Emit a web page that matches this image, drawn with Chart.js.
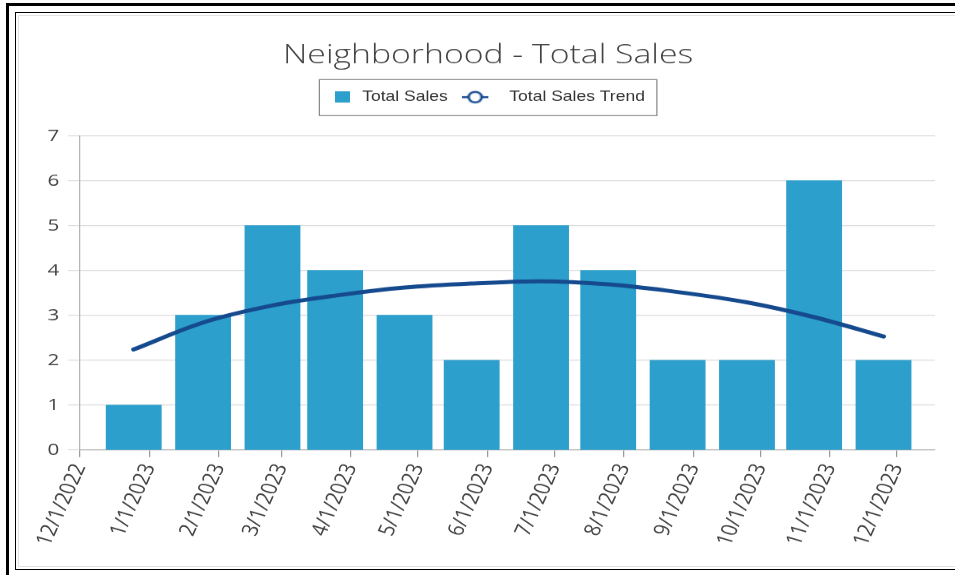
<!DOCTYPE html>
<html>
<head>
<meta charset="utf-8">
<script src="https://cdn.jsdelivr.net/npm/chart.js@4.4.1/dist/chart.umd.min.js"></script>
<style>
  html, body { margin: 0; padding: 0; background: #fff; width: 955px; height: 575px; overflow: hidden; }
  .frame1 { position: absolute; left: 6px; top: 3px; width: 1000px; height: 1000px; border: 3px solid #000; box-sizing: border-box; }
  .frame2 { position: absolute; left: 15px; top: 12px; width: 1000px; height: 558px; border: 1px solid #000; box-sizing: border-box; }
  .frame3 { position: absolute; left: 18px; top: 15px; width: 1000px; height: 552px; border: 1px solid #e2e2e2; box-sizing: border-box; }
  #wrap { position: absolute; left: 0; top: 0; width: 764px; height: 575px; transform: scaleX(1.25); transform-origin: 0 0; }
</style>
</head>
<body>
<div class="frame1"></div>
<div class="frame2"></div>
<div class="frame3"></div>
<div id="wrap"><canvas id="c"></canvas></div>
<script>
// ---- data ----
const chartTitle = "Neighborhood - Total Sales";
const tickLabels = ["12/1/2022","1/1/2023","2/1/2023","3/1/2023","4/1/2023","5/1/2023","6/1/2023",
                    "7/1/2023","8/1/2023","9/1/2023","10/1/2023","11/1/2023","12/1/2023"];
const barDates = ["12/25/2022","1/25/2023","2/25/2023","3/25/2023","4/25/2023","5/25/2023",
                  "6/25/2023","7/25/2023","8/25/2023","9/25/2023","10/25/2023","11/25/2023"];
const totalSales = [1, 3, 5, 4, 3, 2, 5, 4, 2, 2, 6, 2];
const totalSalesTrend = [2.24, 2.84, 3.22, 3.44, 3.62, 3.71, 3.76, 3.69, 3.52, 3.29, 2.96, 2.53];
const axisEndDate = "12/18/2023";
const yMin = 0, yMax = 7, yStep = 1;

// ---- helpers ----
function parseMDY(s) { const p = s.split('/').map(Number); return Date.UTC(p[2], p[0] - 1, p[1]); }
const origin = parseMDY(tickLabels[0]);
function dayOffset(s) { return Math.round((parseMDY(s) - origin) / 86400000); }
const tickDays = tickLabels.map(dayOffset);
const barDays = barDates.map(dayOffset);

const BAR_COLOR = '#2d9fcc';
const LINE_COLOR = '#154a8e';

// legend symbols
function makeSquare() {
  const c = document.createElement('canvas'); c.width = 12; c.height = 11;
  const g = c.getContext('2d'); g.fillStyle = BAR_COLOR; g.fillRect(0, 0, 12, 11); return c;
}
function makeLineMarker() {
  const c = document.createElement('canvas'); c.width = 44; c.height = 14;
  const g = c.getContext('2d');
  g.strokeStyle = LINE_COLOR; g.lineWidth = 2;
  g.beginPath(); g.moveTo(0, 7); g.lineTo(21, 7); g.stroke();
  g.beginPath(); g.arc(10.5, 7, 5.2, 0, Math.PI * 2); g.fillStyle = '#fff'; g.fill(); g.stroke();
  return c;
}
const legendSymbols = [makeSquare(), makeLineMarker()];

const legendBoxPlugin = {
  id: 'legendBox',
  afterDraw(chart) {
    const lg = chart.legend;
    if (!lg || !lg.legendHitBoxes || !lg.legendHitBoxes.length) return;
    const hb = lg.legendHitBoxes;
    const first = hb[0], last = hb[hb.length - 1];
    const left = first.left - 10, right = last.left + last.width + 9;
    const top = first.top - 11, bottom = first.top + first.height + 11;
    const ctx = chart.ctx;
    ctx.save();
    ctx.strokeStyle = '#8a8a8a'; ctx.lineWidth = 1;
    ctx.strokeRect(Math.round(left) + 0.5, Math.round(top) + 0.5, Math.round(right - left), Math.round(bottom - top));
    ctx.restore();
  }
};

const data = {
  datasets: [
    {
      type: 'bar',
      label: 'Total Sales',
      data: barDays.map((d, i) => ({ x: d, y: totalSales[i] })),
      backgroundColor: BAR_COLOR,
      barThickness: 44,
      order: 1
    },
    {
      type: 'line',
      label: 'Total Sales Trend',
      data: barDays.map((d, i) => ({ x: d, y: totalSalesTrend[i] })),
      borderColor: LINE_COLOR,
      borderWidth: 4,
      borderCapStyle: 'round',
      pointRadius: 0,
      cubicInterpolationMode: 'monotone',
      fill: false,
      order: 0
    }
  ]
};

new Chart(document.getElementById('c'), {
  type: 'bar',
  data,
  plugins: [legendBoxPlugin],
  options: {
    responsive: true,
    maintainAspectRatio: false,
    devicePixelRatio: 1.25,
    animation: false,
    layout: { padding: { top: 0, left: 33, right: 16, bottom: 0 } },
    plugins: {
      tooltip: { enabled: false },
      title: {
        display: true,
        text: chartTitle,
        color: '#444',
        font: { family: "'Open Sans', sans-serif", size: 27, weight: 300, lineHeight: 0.75 },
        padding: { top: 45, bottom: 0.25 }
      },
      subtitle: {
        display: true,
        text: ' ',
        position: 'top',
        weight: 500,
        font: { size: 10, lineHeight: 1 },
        padding: { top: 11.7, bottom: 0 }
      },
      legend: {
        display: true,
        position: 'top',
        labels: {
          usePointStyle: true,
          pointStyleWidth: 17.7,
          padding: 24.5,
          color: '#333',
          font: { family: "'Liberation Sans', Arial, sans-serif", size: 14 },
          sort: (a, b) => a.datasetIndex - b.datasetIndex,
          generateLabels(chart) {
            const items = Chart.defaults.plugins.legend.labels.generateLabels(chart);
            items.forEach(it => { it.pointStyle = legendSymbols[it.datasetIndex]; });
            return items;
          }
        }
      }
    },
    scales: {
      x: {
        type: 'linear',
        min: 0,
        max: dayOffset(axisEndDate),
        offset: false,
        afterBuildTicks(scale) { scale.ticks = tickDays.map(v => ({ value: v })); },
        afterFit(scale) { scale.height = 575 - 449.5; },
        grid: {
          display: true, offset: false, drawOnChartArea: false, drawTicks: true, tickLength: 7,
          color: '#9a9a9a'
        },
        border: { display: true, color: '#b5b5b5' },
        ticks: {
          autoSkip: false,
          minRotation: 70,
          maxRotation: 70,
          padding: 4,
          color: '#444',
          font: { family: "'Open Sans', sans-serif", size: 18 },
          callback(value) { const i = tickDays.indexOf(value); return i >= 0 ? tickLabels[i] : ''; }
        }
      },
      y: {
        min: yMin,
        max: yMax,
        afterFit(scale) { scale.width = 64 - 33; },
        grid: { color: '#dcdcdc', tickLength: 9.5, drawTicks: true },
        border: { display: true, color: '#b5b5b5' },
        ticks: { stepSize: yStep, padding: 7, color: '#444', font: { family: "'Open Sans', sans-serif", size: 16.5 } }
      }
    }
  }
});
</script>
</body>
</html>
